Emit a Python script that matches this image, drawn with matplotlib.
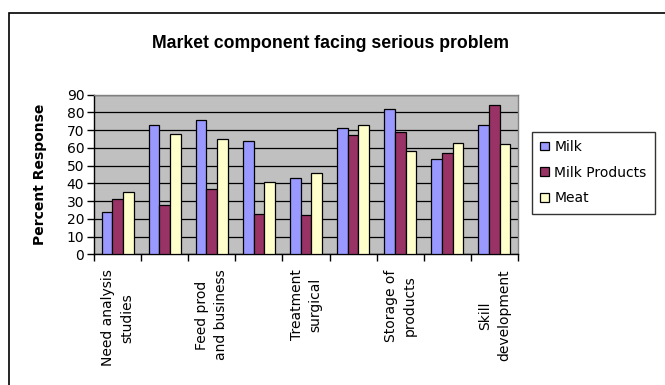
import numpy as np
import matplotlib
matplotlib.use("Agg")
import matplotlib.pyplot as plt
from matplotlib.patches import Rectangle

plt.rcParams['font.family'] = ['DejaVu Sans']

categories = ["Need analysis\nstudies", "", "Feed prod\nand business", "",
              "Treatment\nsurgical", "", "Storage of\nproducts", "",
              "Skill\ndevelopment"]
series_names = ["Milk", "Milk Products", "Meat"]
milk = [24, 73, 76, 64, 43, 71, 82, 54, 73]
milk_products = [31, 28, 37, 23, 22, 67, 69, 57, 84]
meat = [35, 68, 65, 41, 46, 73, 58, 63, 62]
y_ticks = [0, 10, 20, 30, 40, 50, 60, 70, 80, 90]

colors = ["#9999FF", "#993366", "#FFFFCC"]

fig = plt.figure(figsize=(6.65, 3.85), dpi=100)

# chart-area frame (top and left edges visible)
fig.patches.append(Rectangle((9 / 665, -0.1), 1.2, (385 - 12.5) / 385 + 0.1,
                             transform=fig.transFigure, fill=False,
                             edgecolor="black", linewidth=1.2, zorder=0))

ax = fig.add_axes([94 / 665, 1 - 254.3 / 385, (518 - 94) / 665, (254.3 - 94.7) / 385])
ax.set_facecolor("#C0C0C0")

n = len(categories)
x = np.arange(n)
w = 0.227
for i, (vals, name, c) in enumerate(zip([milk, milk_products, meat], series_names, colors)):
    ax.bar(x + (i - 1) * w, vals, width=w, color=c, edgecolor="black",
           linewidth=0.9, label=name, zorder=3)

ax.set_xlim(-0.5, n - 0.5)
ax.set_ylim(0, 90)
ax.set_yticks(y_ticks)
ax.set_yticklabels([str(v) for v in y_ticks], fontsize=10)
ax.yaxis.grid(True, color="black", linewidth=0.9, zorder=1)
ax.set_axisbelow(True)

# category boundary ticks, labels at centers
ax.set_xticks(np.arange(n + 1) - 0.5)
ax.set_xticklabels([])
ax.set_xticks(x, minor=True)
ax.set_xticklabels(categories, minor=True, rotation=90, fontsize=10,
                   va="top", ha="center", multialignment="center",
                   linespacing=1.45)
ax.tick_params(axis="x", which="minor", length=0, pad=11)
ax.tick_params(axis="x", which="major", length=5, width=1, direction="out")
ax.tick_params(axis="y", length=5, width=1, direction="out", pad=2)

for side in ["top", "right"]:
    ax.spines[side].set_color("#808080")
    ax.spines[side].set_linewidth(1.0)
ax.spines["left"].set_linewidth(1.0)
ax.spines["bottom"].set_linewidth(1.0)

ax.set_ylabel("Percent Response", fontsize=10, fontweight="bold")
ax.yaxis.set_label_coords(-0.111, 0.5)

fig.text(330 / 665, 1 - 43 / 385, "Market component facing serious problem",
         ha="center", va="center", fontsize=12.7, fontweight="bold",
         family=["Liberation Sans", "DejaVu Sans"])

leg = fig.legend(loc="upper left", bbox_to_anchor=(532 / 665, 1 - 131.5 / 385),
                 fontsize=10, frameon=True, fancybox=False, edgecolor="black",
                 handlelength=0.6, handleheight=0.6, handletextpad=0.4,
                 borderpad=0.6, labelspacing=0.85, borderaxespad=0)
leg.get_frame().set_linewidth(1.0)

fig.savefig("out.png", dpi=100)
